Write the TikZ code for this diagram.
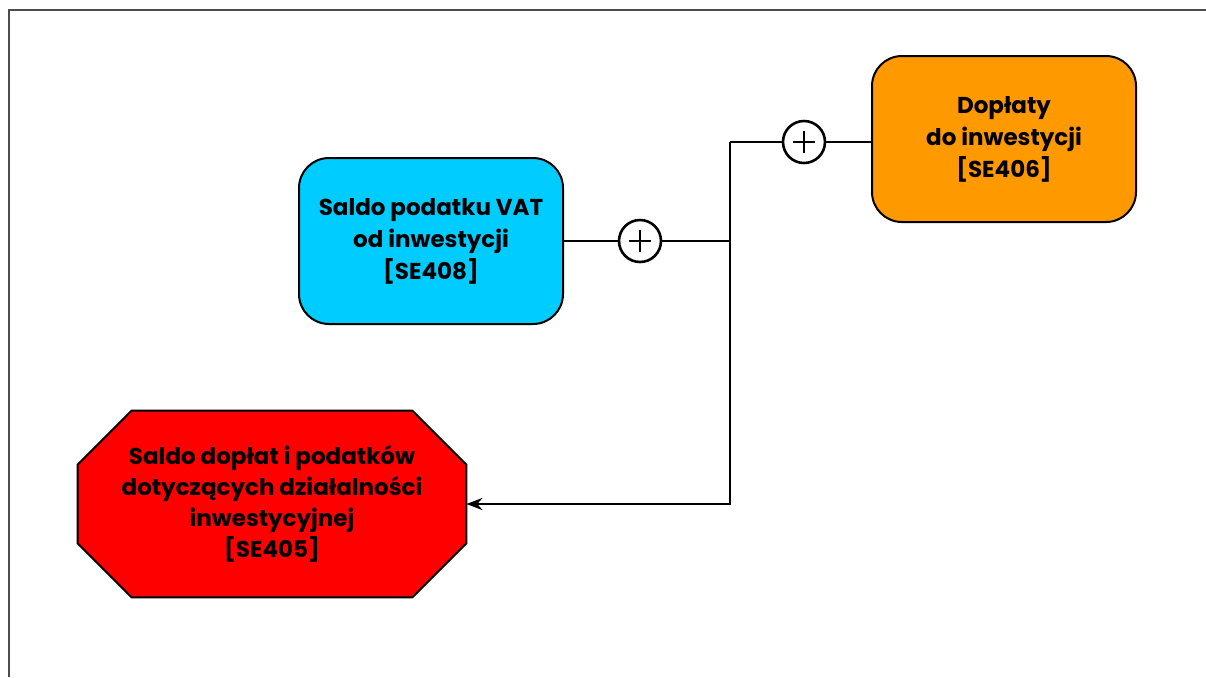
\documentclass[tikz,border=0pt]{standalone}
\usepackage{fontspec}
\setmainfont{Poppins}
\usetikzlibrary{positioning,calc,arrows.meta,backgrounds}
\tikzset{>={Stealth[length=8pt,width=6pt]}}
\definecolor{cyanbox}{HTML}{00CCFF}
\definecolor{orangebox}{HTML}{FF9900}
\definecolor{redbox}{HTML}{FF0000}
\tikzset{
  box/.style={draw,line width=1pt,rounded corners=15pt,minimum width=132pt,minimum height=83pt,
    align=center,font=\bfseries\fontsize{11.5}{16}\selectfont},
  octbox/.style={minimum width=194pt,minimum height=93pt,inner sep=0pt,
    align=center,font=\bfseries\fontsize{11.5}{15.5}\selectfont},
  plus/.style={circle,draw,line width=1.3pt,fill=white,minimum size=21pt,inner sep=0pt,
    path picture={\draw[line width=1.3pt]
      ([xshift=-5.5pt]path picture bounding box.center) -- ([xshift=5.5pt]path picture bounding box.center)
      ([yshift=-5.5pt]path picture bounding box.center) -- ([yshift=5.5pt]path picture bounding box.center);}},
  link/.style={line width=1.3pt}
}

\begin{document}
\begin{tikzpicture}[x=0.5pt,y=-0.5pt]
\useasboundingbox (0,0) rectangle (1206,677);
% frame
\draw[line width=1.2pt,black!70] (9,677) -- (9,10) -- (1206,10);

\node[box,fill=cyanbox] (vat) at (431,241) {Saldo podatku VAT\\od inwestycji\\{[SE408]}};
\node[box,fill=orangebox] (dop) at (1004,139) {Dopłaty\\do inwestycji\\{[SE406]}};
\node[octbox] (sal) at (272,504) {Saldo dopłat i podatków\\dotyczących działalności\\inwestycyjnej\\{[SE405]}};
\begin{scope}[on background layer]
\filldraw[fill=redbox,line width=1pt] ([xshift=27pt]sal.north west) -- ([xshift=-27pt]sal.north east)
  -- ([yshift=-27pt]sal.north east) -- ([yshift=27pt]sal.south east) -- ([xshift=-27pt]sal.south east)
  -- ([xshift=27pt]sal.south west) -- ([yshift=27pt]sal.south west) -- ([yshift=-27pt]sal.north west) -- cycle;
\end{scope}

\node[plus] (p1) at (640,241) {};
\node[plus] (p2) at (804,142) {};
\coordinate (j1) at (730,241);
\coordinate (j2) at (730,142);
\coordinate (j3) at (730,504);

\draw[link] (vat.east |- p1) -- (p1) -- (j1);
\draw[link] (dop.west |- p2) -- (p2) -- (j2);
\draw[link,->] (j2) -- (j3) -- (sal.east |- j3);
\end{tikzpicture}
\end{document}
